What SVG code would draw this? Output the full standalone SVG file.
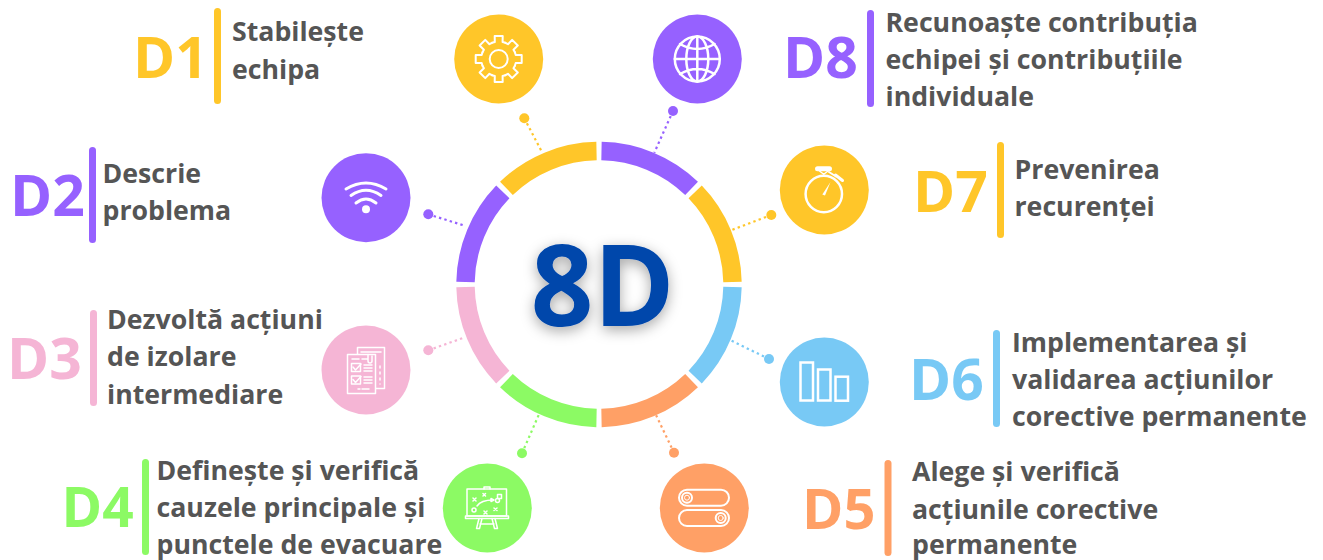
<svg xmlns="http://www.w3.org/2000/svg" width="1323" height="560" viewBox="0 0 1323 560">
<style>
.y{--c:#FFC629}.p{--c:#9661FF}.k{--c:#F5B5D5}.g{--c:#8CFA64}.o{--c:#FFA066}.b{--c:#78C9F5}
.seg{fill:none;stroke:var(--c);stroke-width:18.4}
.dot{stroke:var(--c);stroke-width:2.2;stroke-dasharray:2.4 3.2;fill:none}
.end,.disc{fill:var(--c)}
.bar{fill:var(--c)}
.d{font:700 57px "Open Sans",sans-serif;fill:var(--c)}
.t{font:700 26.7px "Open Sans",sans-serif;fill:#555}
.i{fill:none;stroke:#fff;stroke-width:2;stroke-linecap:round;stroke-linejoin:round}
</style>
<defs>
<filter id="sh" x="-30%" y="-30%" width="160%" height="160%"><feDropShadow dx="0" dy="4" stdDeviation="7" flood-color="#000" flood-opacity="0.35"/></filter>
<path id="tooth" d="M-6.7-16.2L-3.9-17L-4-23H4L3.9-17L6.7-16.2"/>
</defs>
<g id="connectors">
<g class="y"><path class="dot" d="M524.3 118.3L542.3 152.7"/><circle class="end" cx="524.3" cy="118.3" r="5"/></g>
<g class="p"><path class="dot" d="M673 111L654.3 152.7"/><circle class="end" cx="673" cy="111" r="5"/></g>
<g class="p"><path class="dot" d="M428.3 214.3L465.7 226"/><circle class="end" cx="428.3" cy="214.3" r="5"/></g>
<g class="k"><path class="dot" d="M428.3 350.3L465 337.3"/><circle class="end" cx="428.3" cy="350.3" r="5"/></g>
<g class="g"><path class="dot" d="M522 453.3L538.7 415"/><circle class="end" cx="522" cy="453.3" r="5"/></g>
<g class="o"><path class="dot" d="M674 452.7L656 415"/><circle class="end" cx="674" cy="452.7" r="5"/></g>
<g class="y"><path class="dot" d="M771.3 215L731.7 230"/><circle class="end" cx="771.3" cy="215" r="5"/></g>
<g class="b"><path class="dot" d="M769 359L730 340"/><circle class="end" cx="769" cy="359" r="5"/></g>
</g>
<g id="ring">
<path class="seg y" d="M506.42 188.32A133.5 133.5 0 0 1 596.51 151.02"/>
<path class="seg p" d="M601.49 151.02A133.5 133.5 0 0 1 691.58 188.32"/>
<path class="seg y" d="M695.18 191.92A133.5 133.5 0 0 1 732.48 282.01"/>
<path class="seg b" d="M732.48 286.99A133.5 133.5 0 0 1 695.18 377.08"/>
<path class="seg o" d="M691.58 380.68A133.5 133.5 0 0 1 601.49 417.98"/>
<path class="seg g" d="M596.51 417.98A133.5 133.5 0 0 1 506.42 380.68"/>
<path class="seg k" d="M502.82 377.08A133.5 133.5 0 0 1 465.52 286.99"/>
<path class="seg p" d="M465.52 282.01A133.5 133.5 0 0 1 502.82 191.92"/>
</g>
<g id="center"><text transform="translate(602.7 326) scale(.97 1)" text-anchor="middle" font-family="'Open Sans',sans-serif" font-weight="700" font-size="113" fill="#0047AB" filter="url(#sh)">8D</text></g>

<g id="D1" class="y">
<circle class="disc" cx="498.7" cy="59" r="44.5"/>
<g class="i" transform="translate(498.7 59)"><circle r="9"/><use href="#tooth"/><use href="#tooth" transform="rotate(45)"/><use href="#tooth" transform="rotate(90)"/><use href="#tooth" transform="rotate(135)"/><use href="#tooth" transform="rotate(180)"/><use href="#tooth" transform="rotate(225)"/><use href="#tooth" transform="rotate(270)"/><use href="#tooth" transform="rotate(315)"/></g>
<rect class="bar" x="214" y="8" width="7" height="96" rx="3.5"/>
<text class="d" x="133" y="78">D1</text>
<text class="t" x="232" y="40.500">Stabilește</text><text class="t" x="232" y="78.500">echipa</text>
</g>

<g id="D2" class="p">
<circle class="disc" cx="366" cy="197.7" r="44.5"/>
<g class="i" style="stroke-width:3"><path d="M346 189Q366 177 386 189"/><path d="M351 195.5Q366 185 381 195.5"/><path d="M356 203Q366 195 376 203"/></g>
<circle cx="366" cy="209.3" r="4" fill="#fff"/>
<rect class="bar" x="89" y="147" width="7" height="96" rx="3.5"/>
<text class="d" x="10" y="216">D2</text>
<text class="t" x="102.500" y="182.500">Descrie</text><text class="t" x="102.500" y="219.500">problema</text>
</g>

<g id="D3" class="k">
<circle class="disc" cx="366" cy="370" r="44.5"/>
<g class="i" style="stroke-width:1.5">
<path d="M357.5 354V347.5H384.5V388.5H376"/><path d="M381 352H361M380 366V368M380 372V374M380 378V380M380 384V384"/>
<rect x="347.5" y="354.5" width="28" height="39"/>
<path d="M352 359H359M362 359H367M368 354.5V361a2 2 0 0 0 4 0V356"/>
<rect x="351.5" y="363.5" width="9" height="8"/><path d="M353 367L355.5 370L361 364"/><path d="M364 365H372M364 368H372M364 371H372"/>
<rect x="351.5" y="376" width="9" height="8"/><path d="M353 379.500L355.500 382.500L361 376.500"/><path d="M364 377H372M364 380H372M364 383H372M362 389H369M358 389H360"/>
</g>
<rect class="bar" x="90" y="310" width="7" height="96" rx="3.500"/>
<text class="d" x="7" y="379">D3</text>
<text class="t" x="107" y="328.500">Dezvoltă acțiuni</text><text class="t" x="107" y="366">de izolare</text><text class="t" x="107" y="403.500">intermediare</text>
</g>

<g id="D4" class="g">
<circle class="disc" cx="487.300" cy="508" r="44.500"/>
<g class="i" style="stroke-width:1.5">
<rect x="467" y="489" width="39.500" height="27"/><path d="M484 489V487H490V489"/><rect x="465.500" y="516" width="43" height="2.500"/>
<path d="M479 518.500L476.500 528.500H479.500L482 518.500M495 518.500L497.500 528.500H494.500L492 518.500M480 524H494"/>
<path d="M477 506Q481 500 493 500"/><path d="M491 498.500L494 500L491 501.500Z"/>
<circle cx="474" cy="510" r="2"/><circle cx="497.500" cy="500.500" r="2"/><rect x="497.500" y="494.500" width="4" height="4"/>
<path d="M473 498L476 501M476 498L473 501M483 493.500L485.500 496M485.500 493.500L483 496M484 511L487 514M487 511L484 514M494 508L497 510.500M497 508L494 510.500"/>
</g>
<rect class="bar" x="142" y="459" width="7" height="96" rx="3.500"/>
<text class="d" x="61.500" y="527" style="font-size:55px">D4</text>
<text class="t" x="156.500" y="479.500">Definește și verifică</text><text class="t" x="156.500" y="517">cauzele principale și</text><text class="t" x="156.500" y="553.500">punctele de evacuare</text>
</g>

<g id="D5" class="o">
<circle class="disc" cx="704.300" cy="508" r="44.500"/>
<g class="i"><rect x="679" y="489.700" width="50" height="16" rx="8"/><circle cx="687" cy="497.700" r="5"/><circle cx="687" cy="497.700" r="2.500" style="stroke-width:1"/><rect x="679" y="510" width="50" height="16" rx="8"/><circle cx="720.700" cy="518" r="5"/><circle cx="720.700" cy="518" r="2.500" style="stroke-width:1"/></g>
<rect class="bar" x="884.500" y="460" width="7" height="96" rx="3.500"/>
<text class="d" x="802" y="529" style="font-size:56px">D5</text>
<text class="t" x="912" y="481">Alege și verifică</text><text class="t" x="912" y="518.500">acțiunile corective</text><text class="t" x="912" y="553.500">permanente</text>
</g>

<g id="D6" class="b">
<circle class="disc" cx="824.300" cy="382" r="44.500"/>
<g class="i" style="stroke-width:2.500;stroke-linecap:butt;stroke-linejoin:miter"><rect x="800.500" y="362.500" width="12.500" height="38"/><rect x="818" y="369.500" width="12.500" height="31"/><rect x="835.500" y="376.700" width="12.500" height="24"/></g>
<rect class="bar" x="993" y="330" width="7" height="97" rx="3.500"/>
<text class="d" x="909" y="400">D6</text>
<text class="t" x="1012" y="351.500">Implementarea și</text><text class="t" x="1012" y="389">validarea acțiunilor</text><text class="t" x="1012" y="426">corective permanente</text>
</g>

<g id="D7" class="y">
<circle class="disc" cx="824.300" cy="190" r="44.500"/>
<g class="i" style="stroke-width:2.500"><circle cx="823.800" cy="194" r="18.200"/><path d="M817.500 168.800H829.500" style="stroke-width:5"/><path d="M819.500 171L826 176M828 171L821.500 176" style="stroke-width:1.500"/><path d="M829 172L836 176.500" style="stroke-width:2"/><path d="M835.500 175L842.500 180.500" style="stroke-width:3"/></g>
<path d="M822.300 194.500L830.500 182L825 195.500Z" fill="#fff"/>
<rect class="bar" x="997" y="142" width="7" height="96" rx="3.500"/>
<text class="d" x="913" y="212">D7</text>
<text class="t" x="1014.500" y="178.500">Prevenirea</text><text class="t" x="1014.500" y="215.500">recurenței</text>
</g>

<g id="D8" class="p">
<circle class="disc" cx="697.300" cy="59" r="44.500"/>
<g class="i" style="stroke-width:2.500"><circle cx="697.300" cy="59" r="22.500"/><ellipse cx="697.300" cy="59" rx="11" ry="22.500"/><path d="M697.300 36.500V81.500M674.800 59H719.800M680 44Q697.300 54 714.600 44M680 74Q697.300 64 714.600 74"/></g>
<rect class="bar" x="867" y="10" width="7" height="97" rx="3.500"/>
<text class="d" x="783" y="78">D8</text>
<text class="t" x="885.500" y="31.500">Recunoaște contribuția</text><text class="t" x="885.500" y="68.500">echipei și contribuțiile</text><text class="t" x="885.500" y="105.500">individuale</text>
</g>
</svg>
